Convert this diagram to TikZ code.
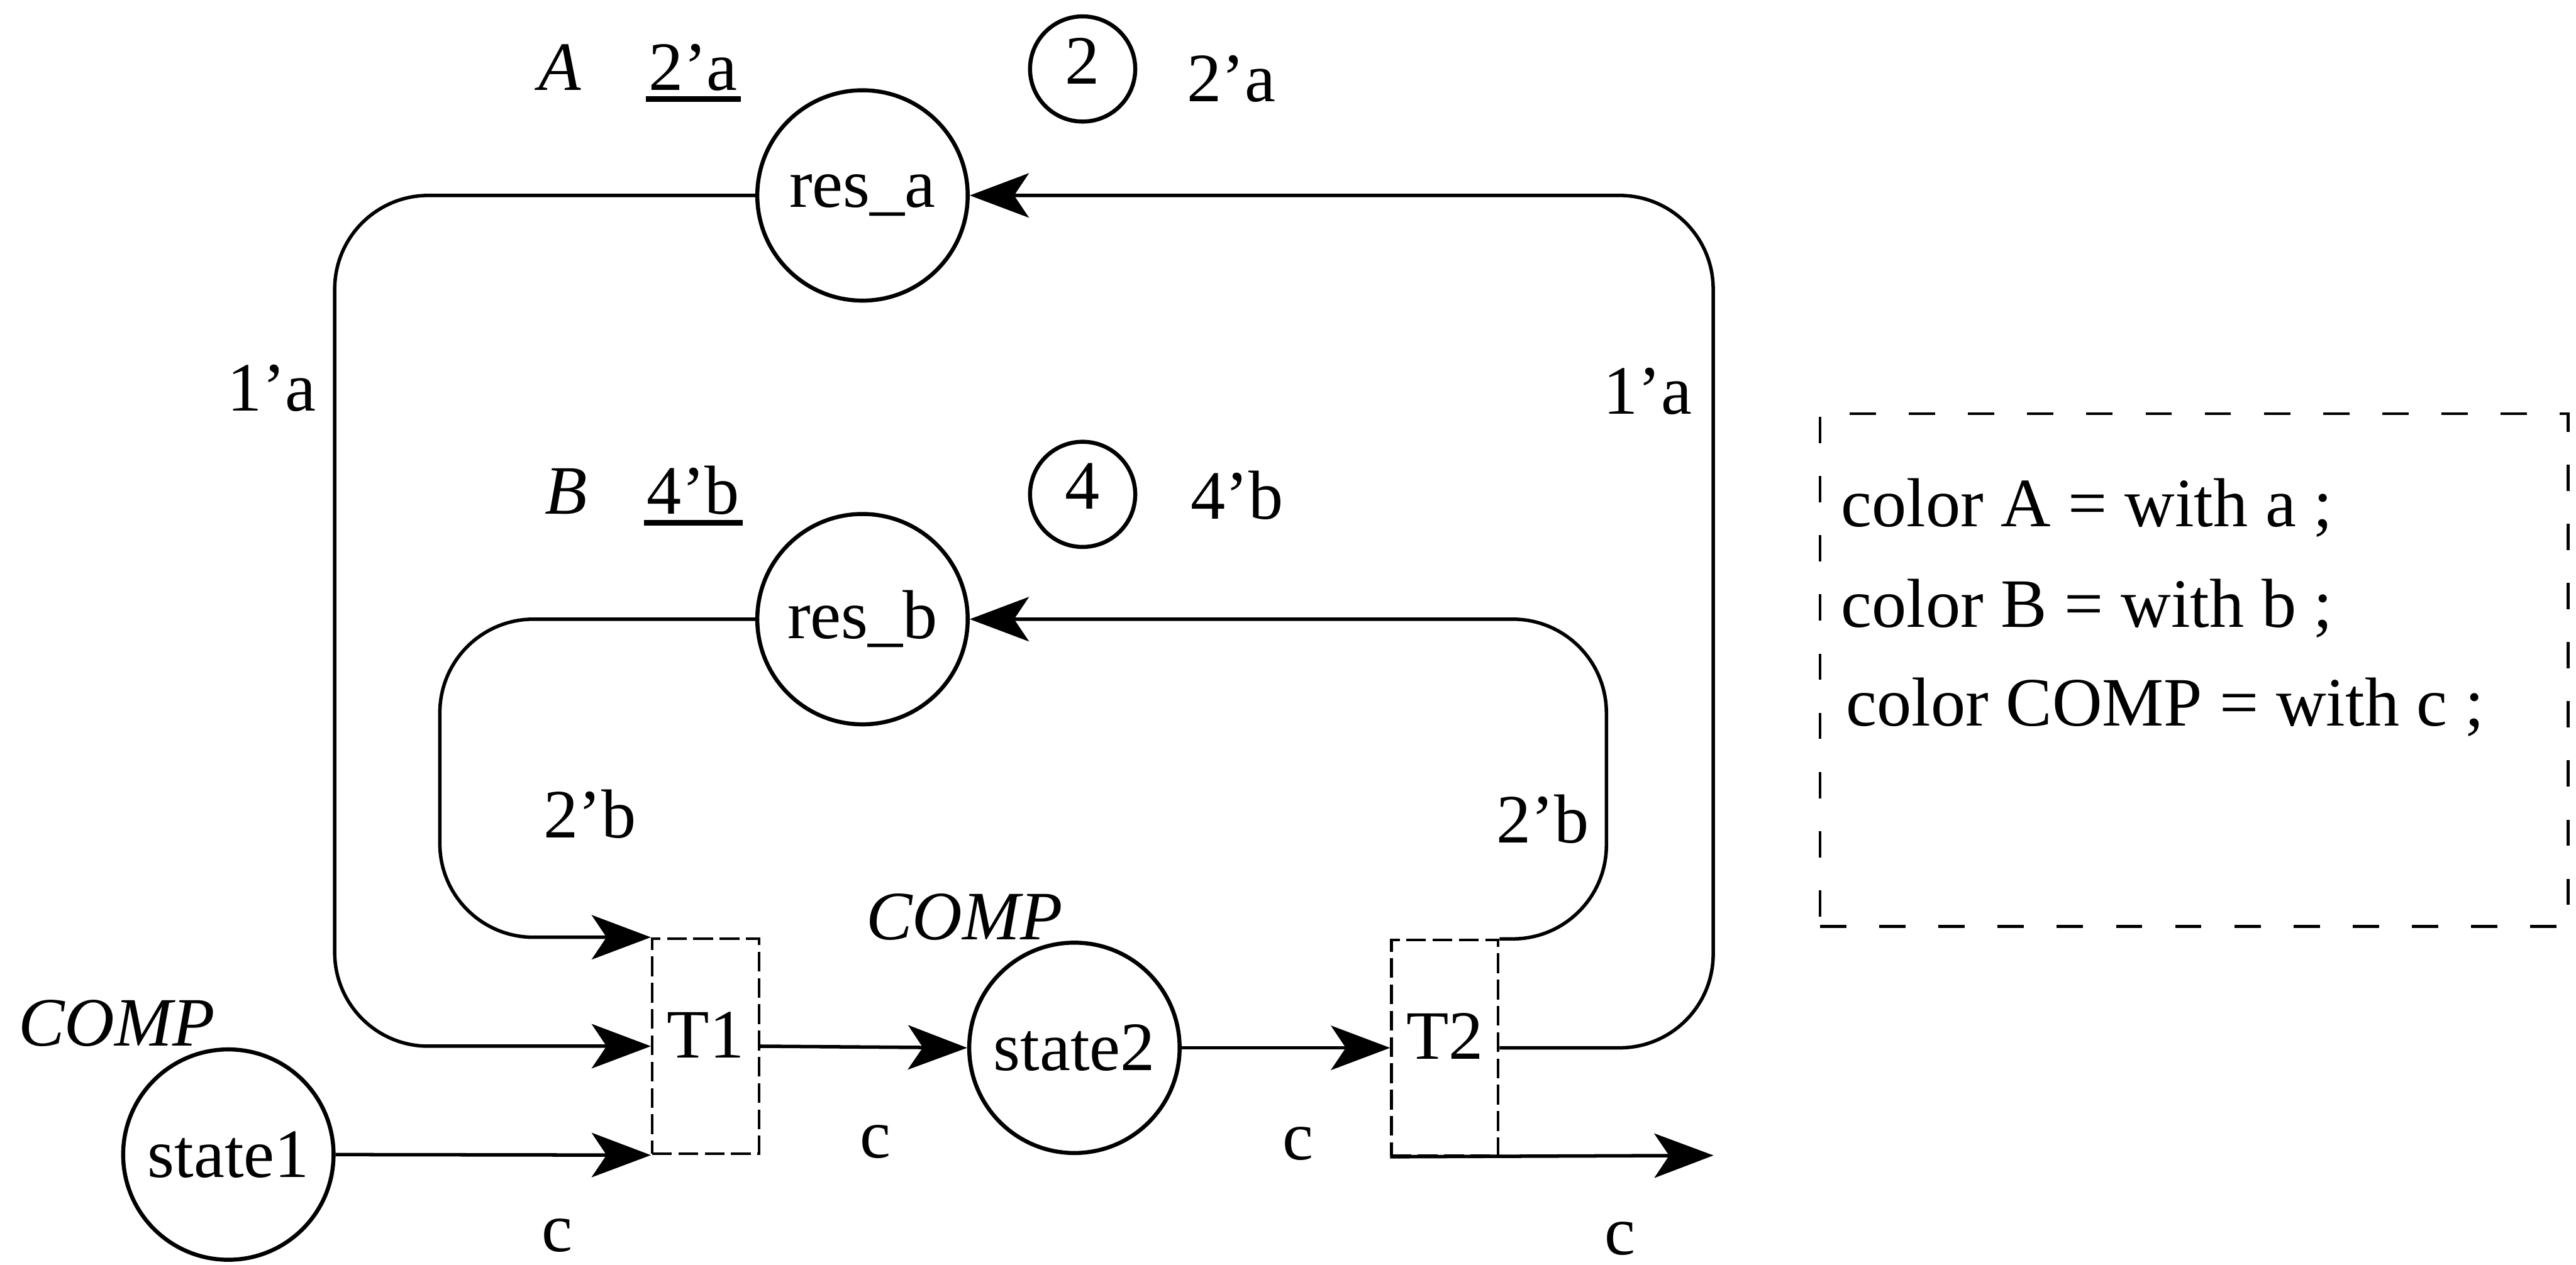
\documentclass[tikz,border=0pt]{standalone}
\usepackage{fontspec}
\setmainfont{Liberation Serif}
\usetikzlibrary{arrows.meta}
\newcommand\myul[1]{\setbox0\hbox{#1}\rlap{\kern-0.02cm\rule[-0.072cm]{\dimexpr\wd0+0.04cm\relax}{0.035cm}}\box0}
\begin{document}
\begin{tikzpicture}[x=0.01cm,y=-0.01cm,
  font=\fontsize{12}{14}\selectfont,
  place/.style={circle,draw,line width=0.7pt,minimum size=1.28cm,inner sep=0pt},
  tok/.style={circle,draw,line width=0.7pt,minimum size=0.64cm,inner sep=0pt,text height=0.28cm,text depth=0.10cm},
  trans/.style={rectangle,draw,line width=0.45pt,dash pattern=on 0.12cm off 0.04cm,minimum width=0.65cm,minimum height=1.31cm,inner sep=0pt,text height=0.28cm,text depth=0.14cm},
  arc/.style={line width=0.6pt,-{Stealth[length=0.36cm,width=0.27cm,inset=0.09cm]}},
  loopa/.style={arc,rounded corners=0.57cm},
  lbl/.style={anchor=base,inner sep=0pt},
  legtext/.style={anchor=base west,inner sep=0pt},
  legbox/.style={draw,line width=0.5pt,dash pattern=on 0.16cm off 0.2cm,minimum width=4.55cm,minimum height=3.12cm,inner sep=0pt,anchor=north west}]
\useasboundingbox (0,0) rectangle (1568,770);

% places and transitions
\node[place] (resa) at (525,119) {res\_a};
\node[place] (resb) at (525,377) {res\_b};
\node[place] (s1) at (139,703) {state1};
\node[place] (s2) at (654,638) {state2};
\node[trans] (t1) at (429.5,637) {T1};
\node[trans] (t2) at (879.5,638) {T2};
\node[tok] (m2) at (659,42) {2};
\node[tok] (m4) at (659,301) {4};
\coordinate (out) at (1043,703.5);

% labels
\node[lbl] (la) at (341,55) {\textit{A}};
\node[lbl] (ia) at (422,55) {\myul{2'a}};
\node[lbl] (ma) at (749.5,62) {2'a};
\node[lbl] (w1) at (165.5,250) {1'a};
\node[lbl] (w2) at (1003,252) {1'a};
\node[lbl] (lb) at (344.5,313) {\textit{B}};
\node[lbl] (ib) at (422,313) {\myul{4'b}};
\node[lbl] (mb) at (753,316) {4'b};
\node[lbl] (w3) at (359,510) {2'b};
\node[lbl] (w4) at (939,513) {2'b};
\node[lbl] (c1) at (71,637) {\textit{COMP}};
\node[lbl] (c2) at (587,572) {\textit{COMP}};
\node[lbl] (k1) at (339,762) {c};
\node[lbl] (k2) at (533,705) {c};
\node[lbl] (k3) at (790,706) {c};
\node[lbl] (k4) at (986,764) {c};

% legend
\node[legbox] (leg) at (1107,251) {};
\node[legtext] (l1) at (1120,320.5) {color A = with a ;};
\node[legtext] (l2) at (1120,382) {color B = with b ;};
\node[legtext] (l3) at (1123,442) {color COMP = with c ;};

% arcs
\draw[loopa] (resa.west) -- ++(-256,0) |- (t1.west);
\draw[loopa] (t2.east) -- ++(130,0) |- (resa.east);
\draw[loopa] (resb.west) -- ++(-192,0) |- (t1.north west);
\draw[loopa] (t2.north east) -- ++(65,0) |- (resb.east);
\draw[arc] (s1.east) -- (t1.south west);
\draw[arc] (t1.east) -- (s2.west);
\draw[arc] (s2.east) -- (t2.west);
\draw[arc] (t2.south west) -- (out);
\end{tikzpicture}
\end{document}
